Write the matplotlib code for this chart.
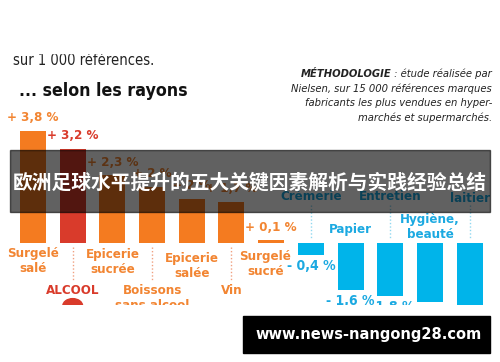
import matplotlib
matplotlib.use("Agg")
import matplotlib.pyplot as plt
from matplotlib.patches import Rectangle, Wedge

plt.rcParams['font.family'] = ['DejaVu Sans']
plt.rcParams['font.stretch'] = 'condensed'

# data
up_cats = ["Surgelé\nsalé", "ALCOOL", "Epicerie\nsucrée", "Boissons\nsans alcool",
           "Epicerie\nsalée", "Vin", "Surgelé\nsucré"]
up_vals = [3.8, 3.2, 2.3, 1.9, 1.5, 1.4, 0.1]
up_labels = ["3,8 %", "3,2 %", "2,3 %", "2 %", "2 %", "1,7 %", "0,1 %"]
down_cats = ["Crèmerie", "Papier", "Entretien", "Hygiène,\nbeauté", "laitier"]
down_vals = [-0.4, -1.6, -1.8, -2.0, -2.4]
down_labels = ["- 0,4 %", "- 1,6 %", "- 1,8 %", "- 2,0 %", "- 2,4 %"]

orange = "#f47b20"
red = "#d93b2b"
blue = "#00b4ea"
txt_orange = "#f28532"
txt_blue = "#1ba9e1"

W, H = 500, 362
fig = plt.figure(figsize=(W / 100, H / 100), dpi=100)

# pixel canvas for furniture
bg = fig.add_axes([0, 0, 1, 1])
bg.set_xlim(0, W)
bg.set_ylim(H, 0)
bg.axis('off')

# bar axes: zero line at y=243 px, 29.5 px per %
zero_px, top_px, bot_px, ppp = 243, 100, 305, 29.5
ax = fig.add_axes([0, (H - bot_px) / H, 1, (bot_px - top_px) / H])
ax.set_ylim(-(bot_px - zero_px) / ppp, (zero_px - top_px) / ppp)
step, first = 39.7, 33
ax.set_xlim(-first / step, (W - first) / step)
ax.axis('off')
ax.patch.set_visible(False)

def py(y):
    return (zero_px - y) / ppp

n_up = len(up_vals)
up_x = list(range(n_up))
down_x = list(range(n_up, n_up + len(down_vals)))
bw = 26 / step

up_colors = [red if c == "ALCOOL" else orange for c in up_cats]
ax.bar(up_x, up_vals, width=bw, color=up_colors, linewidth=0)
ax.bar(down_x, down_vals, width=bw, color=blue, linewidth=0)

cond = dict(fontweight='bold', clip_on=True)

# value labels
for x, v, lab, c in zip(up_x, up_vals, up_labels, up_colors):
    tc = c if c == red else txt_orange
    ax.text(x, v + 13 / ppp, "+ " + lab, ha='center', va='center', color=tc, fontsize=9.5, **cond)
for x, v, lab in zip(down_x, down_vals, down_labels):
    ax.text(x, v - 11 / ppp, lab, ha='center', va='center', color=txt_blue, fontsize=10, **cond)

# category labels (orange side)
up_lab_y = [261, 290, 262, 298, 266, 290, 264]
up_lab_dx = [0, 0, 0, 0, 0, 0, -0.15]
for x, c, yl, col, dx in zip(up_x, up_cats, up_lab_y, up_colors, up_lab_dx):
    tc = col if col == red else txt_orange
    ax.text(x + dx, py(yl), c, ha='center', va='center', color=tc, fontsize=9.5,
            linespacing=1.25, **cond)
for x in [1, 3, 5]:
    ax.plot([x, x], [py(247), py(281)], ls=(0, (1, 1.5)), lw=1, color="#f0a080", clip_on=True)
# alcohol icon
ax.add_patch(Wedge((1, py(306)), 0.25, 0, 180, color=red, clip_on=True))

# category labels (blue side)
down_lab_y = [197, 229, 196, 227, 198]
for x, c, yl in zip(down_x, down_cats, down_lab_y):
    ax.text(x, py(yl), c, ha='center', va='center', color=txt_blue, fontsize=9.5,
            linespacing=1.25, **cond)
for x in [down_x[0], down_x[2], down_x[4]]:
    ax.plot([x, x], [py(205), py(239)], ls=(0, (1, 1.5)), lw=1, color="#90d8f0")

# header text
bg.add_patch(Rectangle((0, 0), W, 53, color='white', zorder=3))
bg.text(13, 65, "sur 1 000 références.", ha='left', va='baseline', fontsize=10.5,
        color='#222222', zorder=2)
bg.text(19, 96, "... selon les rayons", ha='left', va='baseline', fontsize=12.8,
        fontweight='bold', color='#111111')
meth = ["Nielsen, sur 15 000 références marques",
        "fabricants les plus vendues en hyper-",
        "marchés et supermarchés."]
t_norm = bg.text(492, 77, " : étude réalisée par", ha='right', va='baseline',
                 fontsize=8, style='italic', color='#222222')
fig.canvas.draw()
bb = t_norm.get_window_extent(fig.canvas.get_renderer())
x_left = bg.transData.inverted().transform((bb.x0, bb.y0))[0]
bg.text(x_left, 77, "MÉTHODOLOGIE", ha='right', va='baseline', fontsize=8,
        style='italic', fontweight='bold', color='#222222')
for i, line in enumerate(meth):
    bg.text(492, 91.5 + 14.7 * i, line, ha='right', va='baseline', fontsize=8,
            style='italic', color='#222222')

# banner overlay
bg.add_patch(Rectangle((10, 150), 480, 62, color='black', alpha=0.62, zorder=5))
bg.text(250, 183, "欧洲足球水平提升的五大关键因素解析与实践经验总结", ha='center', va='center',
        fontsize=14.2, fontweight='bold', color='white', family=['Noto Sans CJK SC'],
        fontstretch='normal', zorder=6)

# url box
bg.add_patch(Rectangle((243, 316), 247, 37, color='black', zorder=5))
bg.text(369, 335, "www.news-nangong28.com", ha='center', va='center', fontsize=10.5,
        fontweight='bold', color='white', family=['DejaVu Sans'], fontstretch='normal', zorder=6)

bg.set_zorder(3)
ax.set_zorder(2)
fig.savefig("out.png", dpi=100)
